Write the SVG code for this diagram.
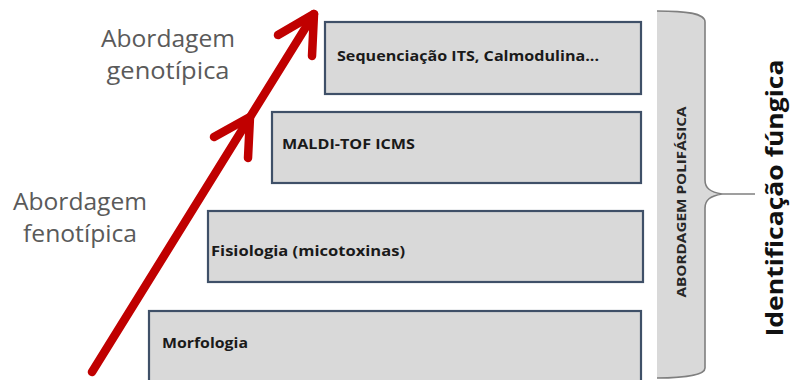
<svg xmlns="http://www.w3.org/2000/svg" width="792" height="380" viewBox="0 0 792 380">
<style>
.box{fill:#d9d9d9;stroke:#3f5068;stroke-width:2.2}
.lbl{font-family:"Open Sans","Liberation Sans",sans-serif;font-weight:bold;font-size:14.5px;fill:#1a1a1a}
.gray{font-family:"Open Sans","Liberation Sans",sans-serif;font-size:24px;fill:#5a5a5a;text-anchor:middle}
.arrow{fill:none;stroke:#c00000;stroke-width:8.5;stroke-linecap:round;stroke-linejoin:round}
.brace{fill:none;stroke:#7f7f7f;stroke-width:1.6}
</style>
<rect width="792" height="380" fill="#ffffff"/>
<g id="node-sequenciacao">
<rect class="box" x="325" y="22" width="316" height="72"/>
<text class="lbl" x="337" y="61" textLength="262" lengthAdjust="spacingAndGlyphs">Sequenciação ITS, Calmodulina...</text>
</g>
<g id="node-maldi">
<rect class="box" x="272" y="112" width="369" height="71"/>
<text class="lbl" x="282" y="149" textLength="133" lengthAdjust="spacingAndGlyphs">MALDI-TOF ICMS</text>
</g>
<g id="node-fisiologia">
<rect class="box" x="208" y="211" width="435" height="71"/>
<text class="lbl" x="211" y="256" textLength="194" lengthAdjust="spacingAndGlyphs">Fisiologia (micotoxinas)</text>
</g>
<g id="node-morfologia">
<rect class="box" x="149" y="311" width="492" height="80"/>
<text class="lbl" x="162" y="348" textLength="86" lengthAdjust="spacingAndGlyphs">Morfologia</text>
</g>
<g id="node-genotipica">
<text class="gray" x="168" y="47" textLength="134" lengthAdjust="spacingAndGlyphs">Abordagem</text>
<text class="gray" x="168" y="79" textLength="123" lengthAdjust="spacingAndGlyphs">genotípica</text>
</g>
<g id="node-fenotipica">
<text class="gray" x="80" y="210" textLength="134" lengthAdjust="spacingAndGlyphs">Abordagem</text>
<text class="gray" x="80" y="242" textLength="114" lengthAdjust="spacingAndGlyphs">fenotípica</text>
</g>
<g id="node-polifasica">
<path d="M657,11 C685,11 705,13 705,22 L705,180 C705,188 710,192 722,194 C710,196 705,200 705,208 L705,368 C705,375 685,378 657,378 Z" fill="#d9d9d9"/>
<path class="brace" d="M657,11 C685,11 705,13 705,22 L705,180 C705,188 710,192 722,194 C710,196 705,200 705,208 L705,368 C705,375 685,378 657,378"/>
<text transform="translate(686,202) rotate(-90)" text-anchor="middle" font-family="Open Sans, Liberation Sans, sans-serif" font-weight="bold" font-size="12" fill="#262626" textLength="191" lengthAdjust="spacingAndGlyphs">ABORDAGEM POLIFÁSICA</text>
</g>
<g id="node-identificacao">
<text transform="translate(783,198) rotate(-90)" text-anchor="middle" font-family="Open Sans, Liberation Sans, sans-serif" font-weight="bold" font-size="24" fill="#111111" textLength="277" lengthAdjust="spacingAndGlyphs">Identificação fúngica</text>
</g>
<g id="connectors">
<line class="brace" x1="722" y1="194" x2="755" y2="194"/>
<g id="arrow">
<line class="arrow" x1="92" y1="372" x2="314" y2="14"/>
<polyline class="arrow" points="278,35 314,14 312,56"/>
<polyline class="arrow" points="214,137 250,117 248,158"/>
</g>
</g>
</svg>
